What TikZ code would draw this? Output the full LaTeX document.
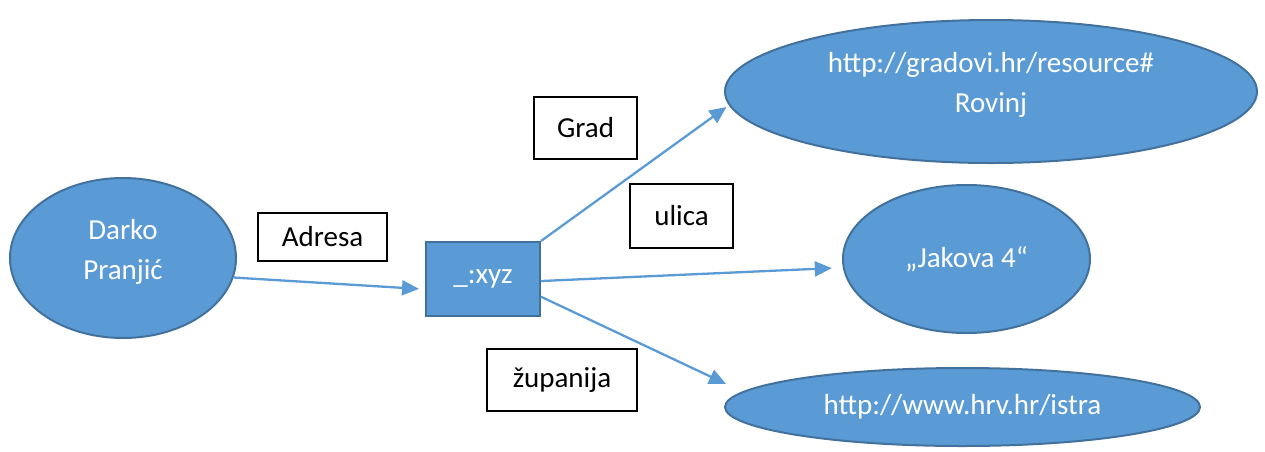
\documentclass[tikz,border=0pt]{standalone}
\usepackage{fontspec}
\setmainfont{Carlito}
\usetikzlibrary{shapes.geometric,arrows.meta}
\definecolor{nodeblue}{HTML}{5B9BD5}
\definecolor{edgeblue}{HTML}{41719C}

\begin{document}
\begin{tikzpicture}[x=0.5pt, y=-0.5pt, font=\fontsize{14.5}{20}\selectfont,
        res/.style = {draw=edgeblue, line width=1pt, fill=nodeblue, ellipse, inner sep=0pt, text=white, align=center},
        blank/.style = {draw=edgeblue, line width=1pt, fill=nodeblue, rectangle, inner sep=0pt, text=white},
        prop/.style = {draw=black, line width=0.75pt, fill=white, rectangle, inner sep=0pt},
        link/.style = {draw=nodeblue, line width=1.15pt, -{Triangle[length=8.5pt,width=7.5pt]}} ]
        \useasboundingbox (0,0) rectangle (1265,451);

        \node[res, minimum width=113pt, minimum height=80pt, text depth=9pt] (darko) at (123,258) {Darko\\Pranjić};
        \node[blank, minimum width=57pt, minimum height=37pt] (xyz) at (483,279) {\_:xyz};
        \node[res, minimum width=266pt, minimum height=71.5pt, text depth=9pt] (rovinj) at (991,91.5) {http://gradovi.hr/resource\#\\Rovinj};
        \node[res, minimum width=123.5pt, minimum height=74pt] (jakova) at (966.5,259) {„Jakova 4“};
        \node[res, minimum width=237.5pt, minimum height=39pt] (istra) at (962.5,407) {http://www.hrv.hr/istra};

        \node[prop, minimum width=64.5pt, minimum height=24pt] (adresa) at (322.5,237) {Adresa};
        \node[prop, minimum width=51.5pt, minimum height=31pt] (grad) at (585.5,128) {Grad};
        \node[prop, minimum width=51.5pt, minimum height=32pt] (ulica) at (681.5,216) {ulica};
        \node[prop, minimum width=75pt, minimum height=31pt] (zupanija) at (562,380) {županija};

        \draw[link, shorten >=3pt] (darko.-10) -- (xyz.190);
        \draw[link, shorten >=1.5pt] (xyz.north east) -- (rovinj.183.7);
        \draw[link, shorten >=5.5pt] (xyz.-2) -- (jakova.184);
        \draw[link, shorten >=9pt] (xyz.-17) -- (istra.176);

    \end{tikzpicture}
\end{document}
